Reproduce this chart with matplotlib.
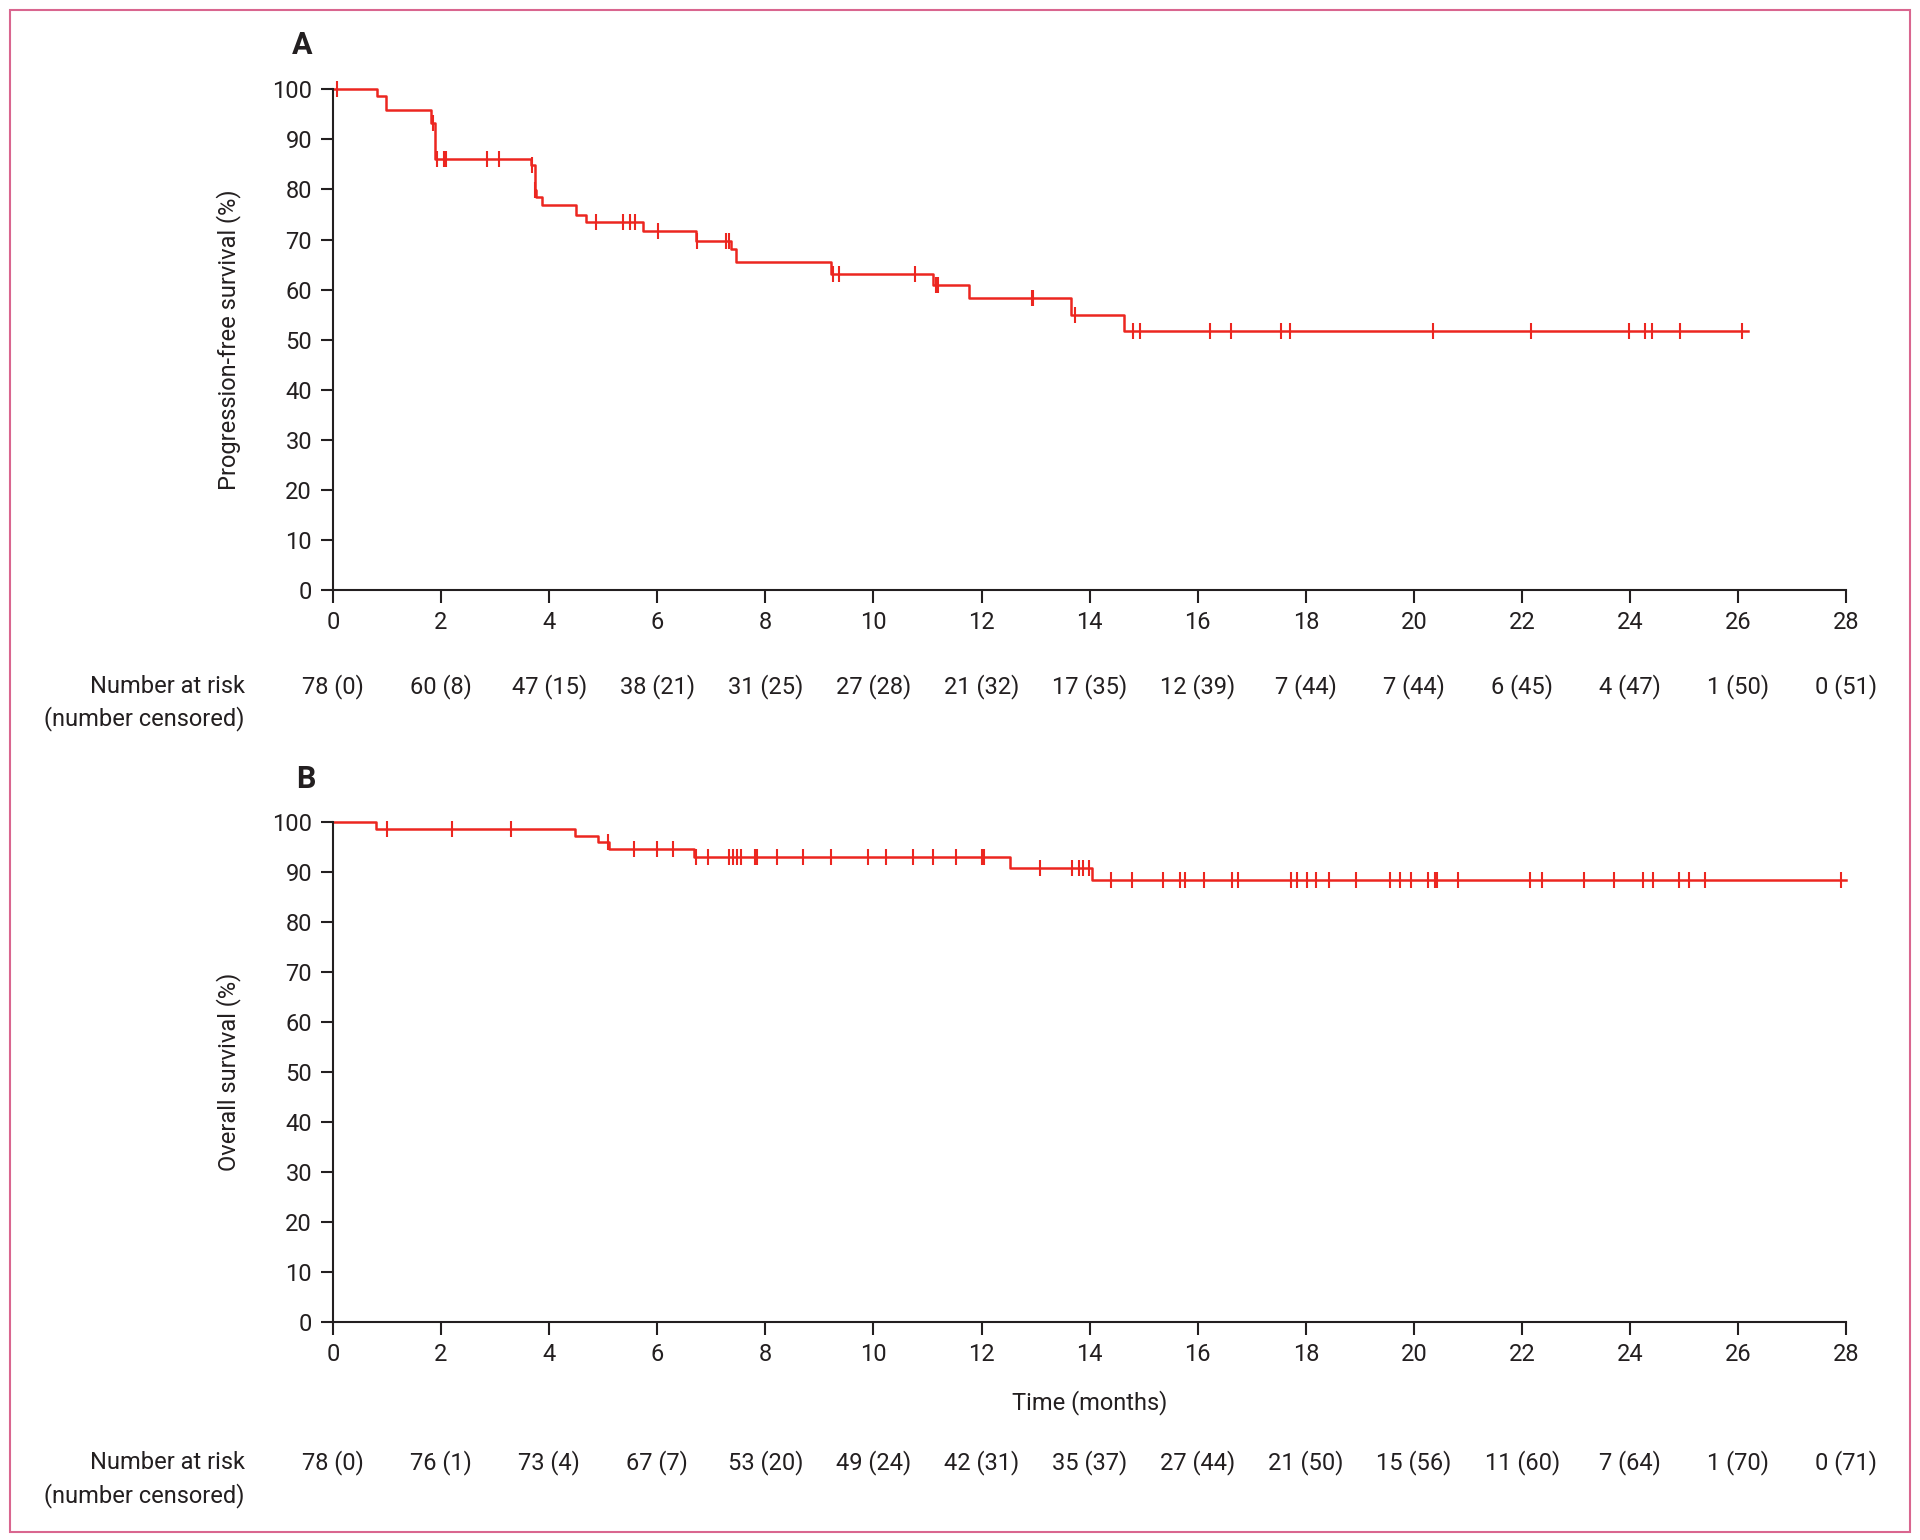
import numpy as np
import matplotlib.pyplot as plt
from matplotlib.patches import Rectangle

# progression-free survival: step times (months) and survival (%) after each step
pfs_time = [0, 0.81, 0.98, 1.82, 1.88, 3.67, 3.73, 3.76, 3.86, 4.50, 4.69, 5.73, 6.72,
            7.36, 7.45, 9.22, 11.10, 11.76, 13.65, 14.64]
pfs_surv = [100, 98.6, 95.8, 93.3, 86.1, 84.8, 79.9, 78.5, 76.9, 74.9, 73.4, 71.7, 69.7,
            68.1, 65.5, 63.1, 60.9, 58.3, 54.9, 51.7]
pfs_end = 26.18
pfs_cens = [0.08, 1.85, 1.93, 2.06, 2.10, 2.85, 3.08, 3.69, 3.745, 4.87, 5.36, 5.50, 5.59,
            6.01, 6.73, 7.27, 7.32, 9.26, 9.37, 10.77, 11.15, 11.19, 12.93, 12.95, 13.72,
            14.81, 14.93, 16.23, 16.62, 17.53, 17.71, 20.36, 22.16, 23.97, 24.28, 24.41,
            24.92, 26.06]

# overall survival
os_time = [0, 0.80, 4.48, 4.91, 5.10, 6.68, 12.53, 14.04]
os_surv = [100, 98.5, 97.1, 95.9, 94.5, 93.0, 90.8, 88.3]
os_end = 28.0
os_cens = [1.00, 2.21, 3.29, 5.09, 5.57, 6.00, 6.30, 6.71, 6.94, 7.33, 7.40, 7.48, 7.55,
           7.80, 7.85, 8.21, 8.69, 9.21, 9.89, 10.24, 10.73, 11.10, 11.53, 12.00, 12.05,
           13.08, 13.68, 13.80, 13.88, 13.98, 14.40, 14.78, 15.36, 15.67, 15.77, 16.12,
           16.63, 16.75, 17.73, 17.83, 18.02, 18.18, 18.42, 18.92, 19.55, 19.74, 19.94,
           20.26, 20.38, 20.43, 20.81, 22.14, 22.37, 23.15, 23.70, 24.24, 24.43, 24.91,
           25.09, 25.39, 27.90]

risk_times = list(range(0, 29, 2))
pfs_risk = ['78 (0)', '60 (8)', '47 (15)', '38 (21)', '31 (25)', '27 (28)', '21 (32)',
            '17 (35)', '12 (39)', '7 (44)', '7 (44)', '6 (45)', '4 (47)', '1 (50)', '0 (51)']
os_risk = ['78 (0)', '76 (1)', '73 (4)', '67 (7)', '53 (20)', '49 (24)', '42 (31)',
           '35 (37)', '27 (44)', '21 (50)', '15 (56)', '11 (60)', '7 (64)', '1 (70)', '0 (71)']

plt.rcParams['font.family'] = ['Roboto', 'DejaVu Sans']
RED = '#ec2620'
INK = '#231f20'

fig = plt.figure(figsize=(19.2, 15.4), dpi=100)
fig.patches.append(Rectangle((10 / 1920, 1 - 1532 / 1540), 1900 / 1920, 1522 / 1540,
                             transform=fig.transFigure, fill=False,
                             edgecolor='#d9668f', linewidth=1.5))

ax_a = fig.add_axes([0.1734, 0.6169, 0.7883, 0.3251])
ax_b = fig.add_axes([0.1734, 0.1413, 0.7883, 0.3252])


def km(ax, t, s, end, cens):
    tt = list(t) + [end]
    ss = list(s) + [s[-1]]
    ax.step(tt, ss, where='post', color=RED, lw=1.8, clip_on=False)
    # censor marks sit on the curve
    idx = np.searchsorted(t, cens, side='right') - 1
    cy = np.array(s)[idx]
    ax.plot(cens, cy, ls='none', marker='|', ms=12, mew=1.5, color=RED, clip_on=False)


km(ax_a, pfs_time, pfs_surv, pfs_end, pfs_cens)
km(ax_b, os_time, os_surv, os_end, os_cens)

for ax in (ax_a, ax_b):
    ax.set_xlim(0, 28)
    ax.set_ylim(0, 100)
    ax.set_xticks(range(0, 29, 2))
    ax.set_yticks(range(0, 101, 10))
    for side in ('top', 'right'):
        ax.spines[side].set_visible(False)
    for side in ('left', 'bottom'):
        ax.spines[side].set_linewidth(1.5)
        ax.spines[side].set_color(INK)
    ax.tick_params(length=9, width=1.5, color=INK, labelsize=17, labelcolor=INK, pad=6)

ax_a.set_ylabel('Progression-free survival (%)', fontsize=17, color=INK)
ax_b.set_ylabel('Overall survival (%)', fontsize=17, color=INK)
ax_a.yaxis.set_label_coords(-0.061, 0.5)
ax_b.yaxis.set_label_coords(-0.061, 0.5)
ax_b.set_xlabel('Time (months)', fontsize=17, color=INK)
ax_b.xaxis.set_label_coords(0.5, -0.136)

fig.text(302 / 1920, 1 - 45 / 1540, 'A', fontsize=22, fontweight='bold', color=INK,
         ha='center', va='center')
fig.text(306 / 1920, 1 - 779 / 1540, 'B', fontsize=22, fontweight='bold', color=INK,
         ha='center', va='center')

for ax, risk, y1, y2 in ((ax_a, pfs_risk, -0.192, -0.257), (ax_b, os_risk, -0.279, -0.345)):
    tr = ax.get_xaxis_transform()
    for x, lab in zip(risk_times, risk):
        ax.text(x, y1, lab, transform=tr, ha='center', va='center', fontsize=17, color=INK)
    ax.text(-0.0583, y1, 'Number at risk', transform=ax.transAxes, ha='right',
            va='center', fontsize=17, color=INK)
    ax.text(-0.0583, y2, '(number censored)', transform=ax.transAxes, ha='right',
            va='center', fontsize=17, color=INK)

fig.savefig('out.png', dpi=100)
